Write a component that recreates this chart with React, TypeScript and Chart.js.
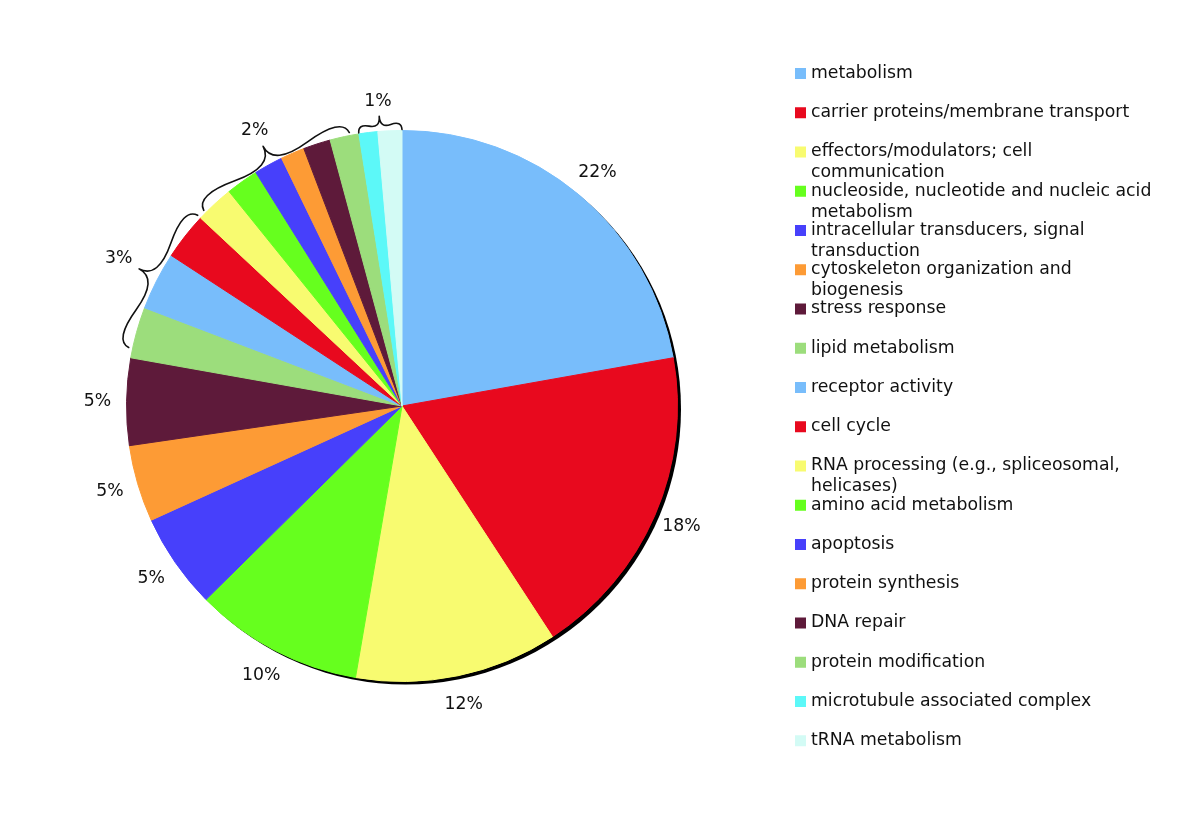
import React, { useEffect, useRef } from "react";
import { Chart, registerables } from "chart.js";

Chart.register(...registerables);

const categories = [
  "metabolism",
  "carrier proteins/membrane transport",
  "effectors/modulators; cell communication",
  "nucleoside, nucleotide and nucleic acid metabolism",
  "intracellular transducers, signal transduction",
  "cytoskeleton organization and biogenesis",
  "stress response",
  "lipid metabolism",
  "receptor activity",
  "cell cycle",
  "RNA processing (e.g., spliceosomal, helicases)",
  "amino acid metabolism",
  "apoptosis",
  "protein synthesis",
  "DNA repair",
  "protein modification",
  "microtubule associated complex",
  "tRNA metabolism",
];

const values = [22.2, 18.6, 11.9, 9.9, 5.6, 4.5, 5.1, 3.0, 3.4, 2.75, 2.25, 1.9, 1.7, 1.4, 1.6, 1.7, 1.1, 1.4];

const sliceLabels = ["22%", "18%", "12%", "10%", "5%", "5%", "5%", "", "", "", "", "", "", "", "", "", "", ""];

const colors = [
  "#78BDFB", "#E8091E", "#F8FB70", "#66FF1E", "#4740FB", "#FD9B35", "#5E1A3A", "#9CDD7C",
  "#78BDFB", "#E8091E", "#F8FB70", "#66FF1E", "#4740FB", "#FD9B35", "#5E1A3A", "#9CDD7C",
  "#5CF8F8", "#D3FBF5",
];

const groupStarts = [7, 10, 16];
const groupEnds = [9, 15, 17];
const groupLabels = ["3%", "2%", "1%"];

const FONT = '17.3px "DejaVu Sans", Verdana, sans-serif';

function wrapText(ctx: CanvasRenderingContext2D, text: string, maxW: number): string[] {
  const words = text.split(" ");
  const lines: string[] = [];
  let cur = "";
  for (const w of words) {
    const test = cur ? cur + " " + w : w;
    if (ctx.measureText(test).width > maxW && cur) {
      lines.push(cur);
      cur = w;
    } else cur = test;
  }
  if (cur) lines.push(cur);
  return lines;
}

function drawBrace(ctx: CanvasRenderingContext2D, cx: number, cy: number, a0: number, a1: number, rEnd: number, rTip: number) {
  const x1 = cx + rEnd * Math.cos(a0), y1 = cy + rEnd * Math.sin(a0);
  const x2 = cx + rEnd * Math.cos(a1), y2 = cy + rEnd * Math.sin(a1);
  const half = (a1 - a0) / 2;
  const w = rTip - rEnd * Math.cos(half);
  let dx = x2 - x1, dy = y2 - y1;
  const len = Math.hypot(dx, dy);
  dx /= len; dy /= len;
  const am = (a0 + a1) / 2;
  const nx = Math.cos(am), ny = Math.sin(am);
  const q = 0.6;
  const P = (t: number, k: number) => [x1 + dx * len * t + nx * w * k, y1 + dy * len * t + ny * w * k];
  const q1 = P(0, q), q2 = P(0.25, 1 - q), tip = P(0.5, 1);
  const q3 = P(1, q), q4 = P(0.75, 1 - q);
  ctx.beginPath();
  ctx.moveTo(x1, y1);
  ctx.quadraticCurveTo(q1[0], q1[1], q2[0], q2[1]);
  ctx.quadraticCurveTo(2 * q2[0] - q1[0], 2 * q2[1] - q1[1], tip[0], tip[1]);
  ctx.moveTo(x2, y2);
  ctx.quadraticCurveTo(q3[0], q3[1], q4[0], q4[1]);
  ctx.quadraticCurveTo(2 * q4[0] - q3[0], 2 * q4[1] - q3[1], tip[0], tip[1]);
  ctx.stroke();
}

const decorPlugin = {
  id: "decor",
  beforeDatasetsDraw(chart: any) {
    const meta = chart.getDatasetMeta(0);
    const arc = meta.data[0];
    if (!arc) return;
    const { x, y, outerRadius } = arc;
    const ctx = chart.ctx as CanvasRenderingContext2D;
    ctx.save();
    ctx.beginPath();
    ctx.rect(0, 0, chart.width, chart.height);
    ctx.arc(x, y, outerRadius - 0.5, 0, Math.PI * 2, true);
    ctx.clip("evenodd");
    ctx.beginPath();
    ctx.arc(x + 3.5, y + 3, outerRadius, 0, Math.PI * 2);
    ctx.fillStyle = "#000";
    ctx.fill();
    ctx.restore();
  },
  afterDatasetsDraw(chart: any) {
    const meta = chart.getDatasetMeta(0);
    const arcs = meta.data;
    if (!arcs.length) return;
    const ctx = chart.ctx as CanvasRenderingContext2D;
    const cx = arcs[0].x, cy = arcs[0].y, r = arcs[0].outerRadius;
    ctx.save();
    ctx.font = FONT;
    ctx.fillStyle = "#111";
    ctx.textAlign = "center";
    ctx.textBaseline = "middle";
    arcs.forEach((a: any, i: number) => {
      const lbl = sliceLabels[i];
      if (!lbl) return;
      const m = (a.startAngle + a.endAngle) / 2;
      ctx.fillText(lbl, cx + (r + 29) * Math.cos(m), cy + (r + 29) * Math.sin(m));
    });
    // braces
    const endOff = [4, 3, 1];
    const tipOff = [21, 19, 15];
    const labOff = [44, 37, 30];
    const insetStart = [2, 1.6, 0];
    const insetEnd = [0, 1.9, 0];
    ctx.strokeStyle = "#111";
    ctx.lineWidth = 1.6;
    ctx.lineJoin = "round";
    ctx.lineCap = "round";
    groupStarts.forEach((s, g) => {
      const e = groupEnds[g];
      const a0 = arcs[s].startAngle + (insetStart[g] * Math.PI) / 180;
      const a1 = arcs[e].endAngle - (insetEnd[g] * Math.PI) / 180;
      drawBrace(ctx, cx, cy, a0, a1, r + endOff[g], r + tipOff[g]);
      const m = (a0 + a1) / 2;
      ctx.fillText(groupLabels[g], cx + (r + labOff[g]) * Math.cos(m), cy + (r + labOff[g]) * Math.sin(m));
    });
    // legend
    ctx.textAlign = "left";
    categories.forEach((name, i) => {
      const yy = 73.5 + i * 39.25;
      ctx.fillStyle = colors[i];
      ctx.fillRect(795, yy - 5.5, 11, 11);
      ctx.fillStyle = "#111";
      const lines = wrapText(ctx, name, 348);
      lines.forEach((ln, j) => ctx.fillText(ln, 811, yy + j * 21));
    });
    ctx.restore();
  },
};

export default function App() {
  const ref = useRef<HTMLCanvasElement | null>(null);
  useEffect(() => {
    document.body.style.margin = "0";
    if (!ref.current) return;
    const chart = new Chart(ref.current, {
      type: "pie",
      data: {
        labels: categories,
        datasets: [
          {
            data: values,
            backgroundColor: colors,
            borderColor: colors,
            borderWidth: 1,
          },
        ],
      },
      options: {
        responsive: false,
        animation: false,
        devicePixelRatio: 1,
        layout: { padding: { left: 126, top: 130, right: 522, bottom: 131 } },
        plugins: {
          legend: { display: false },
          tooltip: { enabled: false },
        },
      },
      plugins: [decorPlugin],
    });
    return () => chart.destroy();
  }, []);
  return (
    <div style={{ position: "absolute", left: 0, top: 0, width: 1200, height: 813, background: "#fff" }}>
      <canvas ref={ref} width={1200} height={813} />
    </div>
  );
}
